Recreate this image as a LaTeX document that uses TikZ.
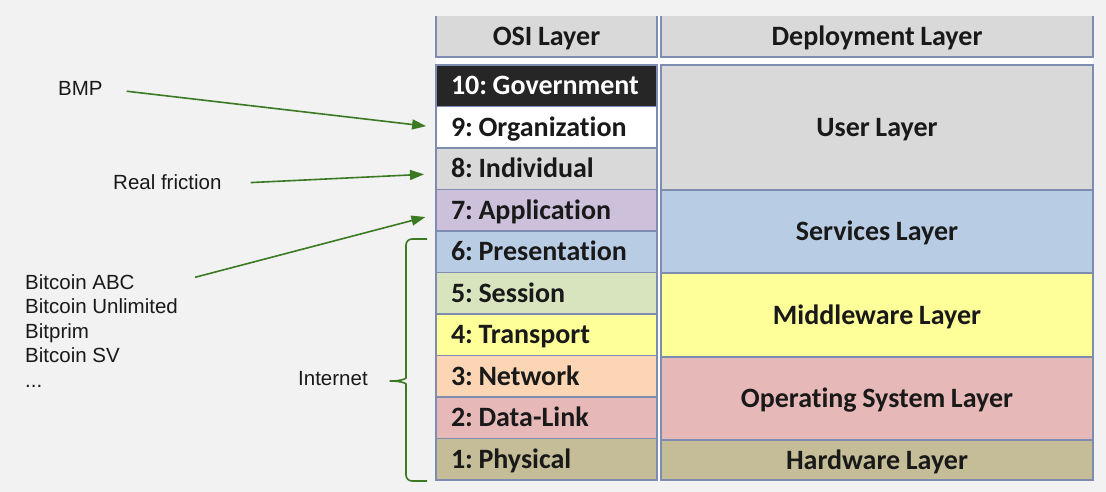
\documentclass[tikz,border=0pt]{standalone}
\usepackage{fontspec}
\setmainfont{Liberation Sans}
\newfontfamily\calfont[Ligatures=NoCommon]{Carlito}
\usepackage{xcolor}
\usepackage{tikz}
\usetikzlibrary{arrows.meta, positioning}
\definecolor{osiedge}{HTML}{7D8CB0}
\definecolor{osigrey}{HTML}{D9D9D9}
\definecolor{osidark}{HTML}{262626}
\definecolor{osililac}{HTML}{CCC0DA}
\definecolor{osiblue}{HTML}{B8CCE4}
\definecolor{osigreen}{HTML}{D7E4BD}
\definecolor{osiyellow}{HTML}{FFFF99}
\definecolor{osipeach}{HTML}{FCD5B4}
\definecolor{osipink}{HTML}{E6B8B7}
\definecolor{osikhaki}{HTML}{C4BD97}
\definecolor{notegreen}{HTML}{3B7A22}
\definecolor{pagegrey}{HTML}{F2F2F2}
\newcommand{\osifont}{\calfont\bfseries\fontsize{28}{30}\selectfont
  \frenchspacing\sfcode`\:=1000\spaceskip=0.2em\relax}
\newcommand{\notefont}{\fontsize{20.5}{24.5}\selectfont}
\newcommand{\layertext}[1]{\makebox[191pt][l]{#1}}

\begin{document}
\begin{tikzpicture}[x=1pt, y=-1pt,
    cell/.style={draw=osiedge, line width=1.5pt, outer sep=0pt, inner ysep=0pt,
      text height=19pt, text depth=1pt, font=\osifont, text=black!90},
    osirow/.style={cell, inner xsep=15pt, minimum width=221pt, minimum height=41.5pt},
    deprow/.style={cell, minimum width=432pt, align=center},
    note/.style={font=\notefont, inner sep=0pt, text=black!90},
    pointer/.style={draw=notegreen, line width=1.6pt,
      -{Triangle[length=14pt, width=10pt]}}]
    % Page and table background
    \fill[pagegrey] (0,0) rectangle (1106,492);
    \fill[white] (436,16) rectangle (1093,481);
    % Header row
    \node[cell, draw=none, fill=osigrey, minimum width=221pt, minimum height=41pt,
      anchor=north west] (hosi) at (436,16) {OSI Layer};
    \node[cell, draw=none, fill=osigrey, minimum width=432pt, minimum height=41pt,
      anchor=north west] (hdep) at (661,16) {Deployment Layer};
    \draw[osiedge, line width=1.5pt]
      (hosi.north west) -- (hosi.south west) -- (hosi.south east) -- (hosi.north east);
    \draw[osiedge, line width=1.5pt]
      (hdep.north west) -- (hdep.south west) -- (hdep.south east) -- (hdep.north east);
    % OSI layers 10 to 1
    \node[osirow, fill=osidark, text=white, anchor=north west] (r10) at (436,65)
      {\layertext{10: Government}};
    \node[osirow, fill=white, below=0pt of r10] (r9) {\layertext{9: Organization}};
    \node[osirow, fill=osigrey, below=0pt of r9] (r8) {\layertext{8: Individual}};
    \node[osirow, fill=osililac, below=0pt of r8] (r7) {\layertext{7: Application}};
    \node[osirow, fill=osiblue, below=0pt of r7] (r6) {\layertext{6: Presentation}};
    \node[osirow, fill=osigreen, below=0pt of r6] (r5) {\layertext{5: Session}};
    \node[osirow, fill=osiyellow, below=0pt of r5] (r4) {\layertext{4: Transport}};
    \node[osirow, fill=osipeach, below=0pt of r4] (r3) {\layertext{3: Network}};
    \node[osirow, fill=osipink, below=0pt of r3] (r2) {\layertext{2: Data-Link}};
    \node[osirow, fill=osikhaki, below=0pt of r2] (r1) {\layertext{1: Physical}};
    % Deployment layers
    \node[deprow, fill=osigrey, minimum height=125pt, anchor=north west] (user)
      at (661,65) {User Layer};
    \node[deprow, fill=osiblue, minimum height=83pt, below=0pt of user] (serv)
      {Services Layer};
    \node[deprow, fill=osiyellow, minimum height=84pt, below=0pt of serv] (midw)
      {Middleware Layer};
    \node[deprow, fill=osipink, minimum height=83pt, below=0pt of midw] (opsys)
      {Operating System Layer};
    \node[deprow, fill=osikhaki, minimum height=40pt, below=0pt of opsys] (hard)
      {Hardware Layer};
    % Notes on the left
    \node[note, anchor=base west] (bmp) at (58,95.5) {BMP};
    \node[note, anchor=base west] (rf) at (113,189.3) {Real friction};
    \node[note, align=left, anchor=north west] (btc) at (25,274.3)
      {Bitcoin ABC\\Bitcoin Unlimited\\Bitprim\\Bitcoin SV\\...};
    \node[note, anchor=base west] (inet) at (298,385.7) {Internet};
    \draw[pointer, shorten <=24pt, shorten >=10pt] (bmp.east) -- (r9.west);
    \draw[pointer, shorten <=29pt, shorten >=12pt]
      ([yshift=-2pt]rf.east) -- ([yshift=-5pt]r8.west);
    \draw[pointer, shorten >=11pt]
      ([xshift=17pt, yshift=-3pt]btc.north east) -- ([yshift=-4pt]r7.west);
    % Brace round layers 6 to 1
    \draw[notegreen, line width=1.6pt, rounded corners=6pt]
      (427,239) -- (406,239) -- (406,372)
      .. controls (406,379) and (399,381) .. (386,381)
      .. controls (399,381) and (406,383) .. (406,390)
      -- (406,481) -- (427,481);
  \end{tikzpicture}
\end{document}
